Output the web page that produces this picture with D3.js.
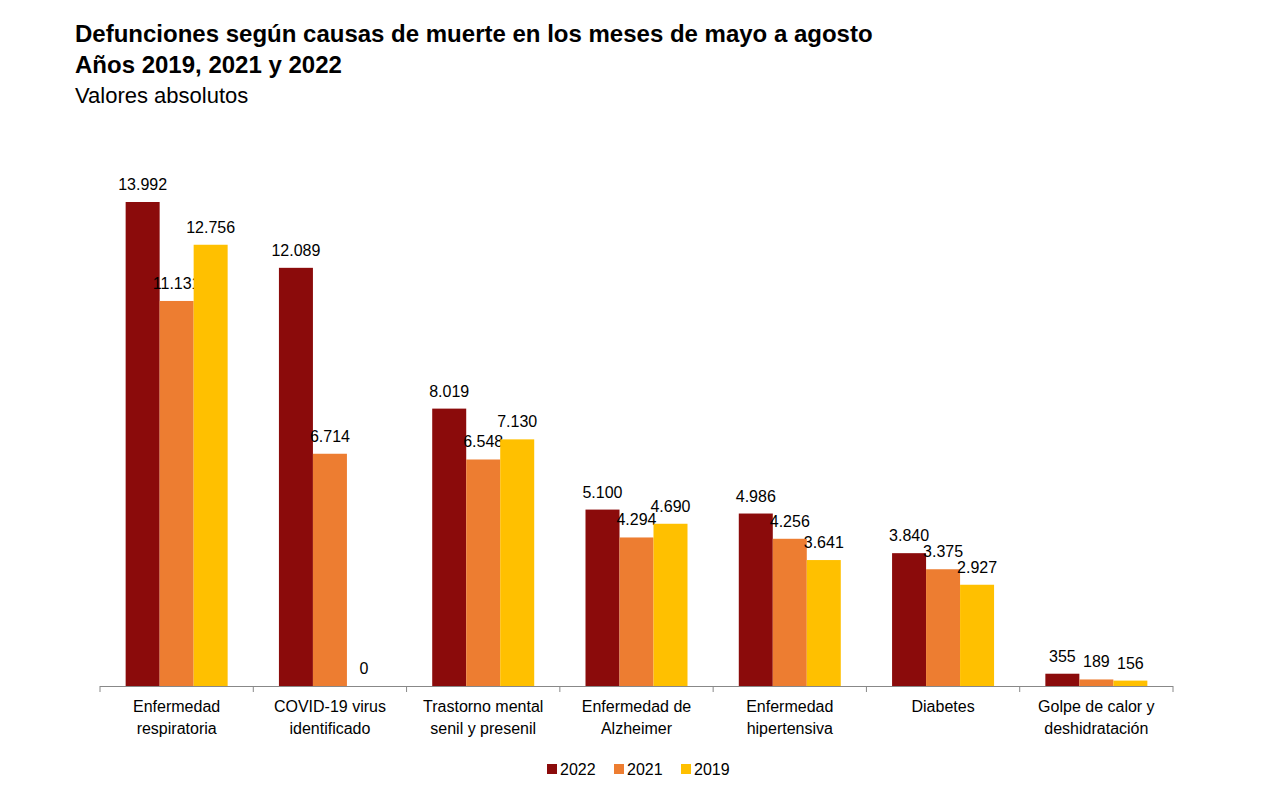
<!DOCTYPE html>
<html><head><meta charset="utf-8">
<script src="https://cdn.jsdelivr.net/npm/d3@7/dist/d3.min.js"></script>
<style>body{margin:0;background:#fff;font-family:"Liberation Sans",Arial,sans-serif}</style>
</head><body><svg id="c" width="1285" height="800"></svg>
<script>
const categories=[["Enfermedad","respiratoria"],["COVID-19 virus","identificado"],["Trastorno mental","senil y presenil"],["Enfermedad de","Alzheimer"],["Enfermedad","hipertensiva"],["Diabetes"],["Golpe de calor y","deshidratación"]];
const years=["2022","2021","2019"];
const v2022=[13992,12089,8019,5100,4986,3840,355];
const v2021=[11131,6714,6548,4294,4256,3375,189];
const v2019=[12756,0,7130,4690,3641,2927,156];
const colors=["#8B0B0B","#ED7D31","#FFC000"];
const series=[v2022,v2021,v2019];
const svg=d3.select("#c");
const fmt=n=>d3.format(",")(n).replace(/,/g,".");
svg.append("text").attr("x",75).attr("y",42).attr("font-size",24).attr("font-weight","bold").text("Defunciones según causas de muerte en los meses de mayo a agosto");
svg.append("text").attr("x",75).attr("y",73).attr("font-size",24).attr("font-weight","bold").text("Años 2019, 2021 y 2022");
svg.append("text").attr("x",75).attr("y",103).attr("font-size",22).text("Valores absolutos");
const x=d3.scaleBand().domain(d3.range(7)).range([100,1173]);
const inner=d3.scaleBand().domain(d3.range(3)).range([0,102]);
const pad=(x.bandwidth()-102)/2;
const y=d3.scaleLinear().domain([0,13992]).range([686,202]);
series.forEach((s,si)=>{
  const g=svg.append("g");
  g.selectAll("rect").data(s).join("rect")
   .attr("x",(d,i)=>x(i)+pad+inner(si)).attr("width",inner.bandwidth())
   .attr("y",d=>y(d)).attr("height",d=>686-y(d)).attr("fill",colors[si]);
  g.selectAll("text").data(s).join("text")
   .attr("x",(d,i)=>x(i)+pad+inner(si)+inner.bandwidth()/2).attr("y",d=>y(d)-12)
   .attr("text-anchor","middle").attr("font-size",16).text(d=>fmt(d));
});
svg.append("line").attr("x1",100).attr("x2",1173).attr("y1",686.5).attr("y2",686.5).attr("stroke","#888");
d3.range(8).forEach(i=>{const xx=i<7?x(i):1173;svg.append("line").attr("x1",xx).attr("x2",xx).attr("y1",686).attr("y2",692).attr("stroke","#888");});
categories.forEach((c,i)=>{c.forEach((t,j)=>svg.append("text").attr("x",x(i)+x.bandwidth()/2).attr("y",712+j*22).attr("text-anchor","middle").attr("font-size",16).text(t));});
const lx=[547,614,681];
years.forEach((yr,i)=>{svg.append("rect").attr("x",lx[i]).attr("y",764).attr("width",10).attr("height",10).attr("fill",colors[i]);
svg.append("text").attr("x",lx[i]+13).attr("y",775).attr("font-size",16).text(yr);});
</script></body></html>
